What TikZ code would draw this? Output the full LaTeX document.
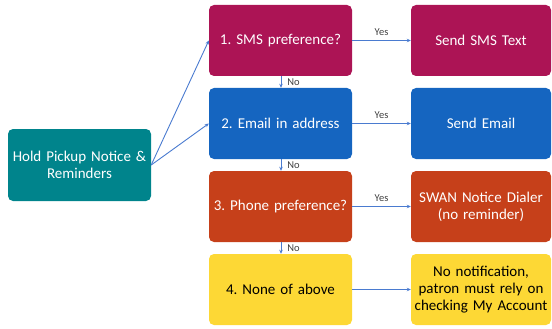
\documentclass[tikz,border=0pt]{standalone}
\usepackage{fontspec}
\setmainfont{Carlito}
\frenchspacing
\usetikzlibrary{arrows.meta}
\definecolor{cteal}{HTML}{00848C}
\definecolor{csms}{HTML}{AC1455}
\definecolor{cmail}{HTML}{1565C0}
\definecolor{cphone}{HTML}{C6401A}
\definecolor{cyel}{HTML}{FDD835}
\definecolor{cline}{HTML}{4A7BD0}
\definecolor{clab}{HTML}{404040}
\begin{document}
\begin{tikzpicture}[x=1pt,y=-1pt,
  box/.style={rounded corners=5pt, minimum height=71pt, inner sep=1pt, align=center, font=\fontsize{15}{17}\selectfont, text=white},
  lbox/.style={box, minimum width=143pt, text width=141pt},
  rbox/.style={box, minimum width=140pt, text width=138pt},
  conn/.style={draw=cline, line width=0.9pt, -{Stealth[length=4pt,width=3.5pt]}},
  lab/.style={font=\fontsize{10.5}{12}\selectfont, text=clab, inner sep=1pt}]
\useasboundingbox (0,0) rectangle (552,329);
\node[lbox, fill=cteal, minimum height=72pt] (hold) at (79.5,165) {Hold Pickup Notice \&\\Reminders};
\node[lbox, fill=csms] (sms) at (280.5,40.5) {1. SMS preference?};
\node[lbox, fill=cmail] (email) at (280.5,123.5) {2. Email in address};
\node[lbox, fill=cphone] (phone) at (280.5,206.5) {3. Phone preference?};
\node[lbox, fill=cyel, text=black] (none) at (280.5,289.5) {4. None of above};
\node[rbox, fill=csms] (sendsms) at (481,40.5) {Send SMS Text};
\node[rbox, fill=cmail] (sendmail) at (481,123.5) {Send Email};
\node[rbox, fill=cphone] (swan) at (481,206.5) {SWAN Notice Dialer\\(no reminder)};
\node[rbox, fill=cyel, text=black] (nonote) at (481,289.5) {No notification,\\patron must rely on\\checking My Account};
\draw[conn] (hold.east) -- (sms.west);
\draw[conn] (hold.east) -- (email.west);
\draw[conn] (sms.east) -- node[lab, above=3pt] {Yes} (sendsms.west);
\draw[conn] (email.east) -- node[lab, above=3pt] {Yes} (sendmail.west);
\draw[conn] (phone.east) -- node[lab, above=3pt] {Yes} (swan.west);
\draw[conn] (none.east) -- (nonote.west);
\draw[conn] (sms.south) ++(0.5,0) coordinate (s1) (s1) -- (s1 |- email.north) node[lab, midway, right=5pt] {No};
\draw[conn] (email.south) ++(0.5,0) coordinate (s2) (s2) -- (s2 |- phone.north) node[lab, midway, right=5pt] {No};
\draw[conn] (phone.south) ++(0.5,0) coordinate (s3) (s3) -- (s3 |- none.north) node[lab, midway, right=5pt] {No};
\end{tikzpicture}
\end{document}
